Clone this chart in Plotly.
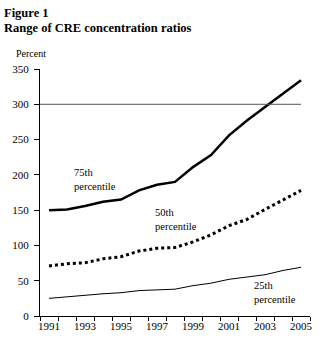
import plotly.graph_objects as go

years = list(range(1991, 2006))
p75 = [150, 151, 156, 162, 165, 178, 186, 190, 211, 228, 256, 277, 296, 315, 334]
p50 = [71, 74, 75.5, 81, 84, 92, 96, 97, 105, 115, 128, 137, 151, 164, 178]
p25 = [25, 27.5, 29, 31.5, 33, 36, 37, 38, 43, 46.5, 52, 55.5, 58.5, 64.5, 69]
label_years = [1991, 1993, 1995, 1997, 1999, 2001, 2003, 2005]
boundaries = [y - 0.5 for y in years] + [years[-1] + 0.5]
reference_level = 300

serif = "Liberation Serif"
black = "#000000"

fig = go.Figure()
fig.add_trace(go.Scatter(x=years, y=p75, mode="lines",
                         line=dict(color=black, width=2.5), hoverinfo="skip"))
fig.add_trace(go.Scatter(x=years, y=p50, mode="lines",
                         line=dict(color=black, width=3, dash="dot"), hoverinfo="skip"))
fig.add_trace(go.Scatter(x=years, y=p25, mode="lines",
                         line=dict(color=black, width=1), hoverinfo="skip"))
# invisible trace so the boundary-tick axis is drawn
fig.add_trace(go.Scatter(x=[years[0]], y=[0], xaxis="x2", mode="markers",
                         marker=dict(opacity=0), hoverinfo="skip"))

fig.add_shape(type="line", xref="x", yref="y", x0=boundaries[0], x1=years[-1],
              y0=reference_level, y1=reference_level,
              line=dict(color="#555555", width=1))

xrange = [boundaries[0], boundaries[-1]]
fig.update_layout(
    width=327, height=349,
    margin=dict(l=38, r=17, t=69, b=33),
    paper_bgcolor="white", plot_bgcolor="white",
    showlegend=False,
    font=dict(family=serif, size=11, color=black),
    xaxis=dict(range=xrange, tickvals=label_years, ticktext=[str(y) for y in label_years],
               showgrid=False, zeroline=False, showline=True, linecolor=black, linewidth=1,
               ticks="", tickfont=dict(size=11, family=serif)),
    xaxis2=dict(range=xrange, overlaying="x", anchor="y", side="bottom",
                tickvals=boundaries, showticklabels=False, ticks="outside",
                ticklen=4, tickcolor=black, showgrid=False, zeroline=False, showline=False),
    yaxis=dict(range=[0, 350], dtick=50, showgrid=False, zeroline=False,
               showline=True, linecolor=black, linewidth=1, ticks="outside",
               ticklen=5, tickcolor=black, tickfont=dict(size=11, family=serif),
               ticklabelstandoff=3),
)

fig.add_annotation(text="<b>Figure 1</b>", xref="paper", yref="paper",
                   x=-38/272, y=1 + (69-13)/247, xanchor="left", yanchor="middle",
                   showarrow=False, font=dict(size=12.5, family=serif))
fig.add_annotation(text="<b>Range of CRE concentration ratios</b>", xref="paper", yref="paper",
                   x=-38/272, y=1 + (69-28)/247, xanchor="left", yanchor="middle",
                   showarrow=False, font=dict(size=12.5, family=serif))
fig.add_annotation(text="Percent", xref="paper", yref="paper",
                   x=-26/272, y=1 + (69-53)/247, xanchor="left", yanchor="middle",
                   showarrow=False, font=dict(size=10, family=serif))

for txt, xv, yv in [("75th<br>percentile", 1992.25, 194),
                    ("50th<br>percentile", 1996.8, 137),
                    ("25th<br>percentile", 2002.25, 33)]:
    fig.add_annotation(text=txt, x=xv, y=yv, xref="x", yref="y", xanchor="left",
                       yanchor="middle", align="left", showarrow=False,
                       font=dict(size=10.5, family=serif))

fig.write_html("out.html")
